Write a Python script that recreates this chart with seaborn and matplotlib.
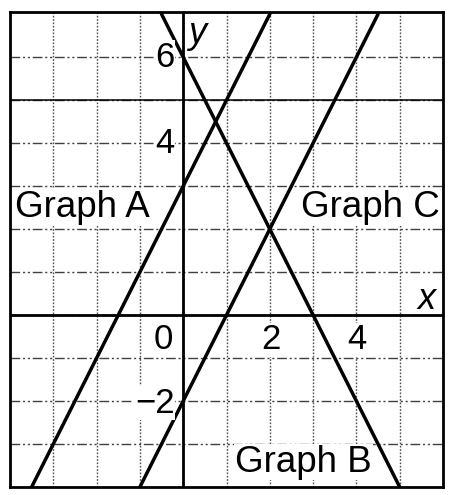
import numpy as np
import matplotlib
matplotlib.use("Agg")
import matplotlib.pyplot as plt
import pandas as pd
import seaborn as sns

# endpoints of each line where it leaves the grid
graph_a_x = [-3.5, 2.0]
graph_a_y = [-4.0, 7.0]
graph_b_x = [-0.5, 5.0]
graph_b_y = [7.0, -4.0]
graph_c_x = [-1.0, 4.5]
graph_c_y = [-4.0, 7.0]

x_tick_labels = ["0", "2", "4"]
x_tick_pos = [-0.46, 2.03, 4.02]
y_tick_labels = ["6", "4", "\u22122"]
y_tick_pos = [6.0, 4.0, -2.05]

df = pd.DataFrame({
    "x": graph_a_x + graph_b_x + graph_c_x,
    "y": graph_a_y + graph_b_y + graph_c_y,
    "graph": ["A"] * 2 + ["B"] * 2 + ["C"] * 2,
})

sns.set_theme(style="white")
plt.rcParams['font.family'] = ['Liberation Sans', 'DejaVu Sans']
plt.rcParams['text.color'] = 'black'

fig = plt.figure(figsize=(4.51, 4.95), dpi=100)
ax = fig.add_axes([10 / 451, 8 / 495, 433 / 451, 475 / 495])

# grid
for gx in range(-3, 6):
    ax.axvline(gx, color='0.3', lw=1.0, ls=(0, (1.2, 1.2)), zorder=0)
for gy in range(-3, 7):
    ax.axhline(gy, color='0.25', lw=1.0, ls=(0, (7, 2, 1.5, 2, 1.5, 2)), zorder=0)
ax.axhline(5, color='black', lw=1.1, zorder=1)

# axes
ax.axhline(0, color='black', lw=2.0, zorder=1)
ax.axvline(0, color='black', lw=2.0, zorder=1)

sns.lineplot(data=df, x="x", y="y", units="graph", estimator=None, sort=False,
             color='black', lw=2.5, ax=ax, zorder=2)

ax.set_xlim(-4, 6)
ax.set_ylim(-4, 7.05)
ax.set_xticks([])
ax.set_yticks([])
ax.set_xlabel("")
ax.set_ylabel("")
for s in ax.spines.values():
    s.set_visible(True)
    s.set_color('black')
    s.set_linewidth(2.0)

fs = 25
gfs = 26.5
bg = dict(facecolor='white', edgecolor='none', pad=0.5)
for lab, px in zip(x_tick_labels, x_tick_pos):
    ax.text(px, -0.58, lab, ha='center', va='center', fontsize=fs, color='black', bbox=bg, zorder=3)
for lab, py in zip(y_tick_labels, y_tick_pos):
    ax.text(-0.2, py, lab, ha='right', va='center', fontsize=fs, color='black', bbox=bg, zorder=3)

ax.text(0.12, 6.56, "y", ha='left', va='center', fontsize=26, style='italic', color='black', zorder=3)
ax.text(5.63, 0.37, "x", ha='center', va='center', fontsize=26, style='italic', color='black', zorder=3)

ax.text(-3.88, 2.5, "Graph A", ha='left', va='center', fontsize=gfs, color='black', bbox=bg, zorder=3)
ax.text(5.92, 2.5, "Graph C", ha='right', va='center', fontsize=gfs, color='black', bbox=bg, zorder=3)
ax.text(1.2, -3.42, "Graph B", ha='left', va='center', fontsize=gfs, color='black', bbox=bg, zorder=3)

fig.savefig("out.png", dpi=100)
